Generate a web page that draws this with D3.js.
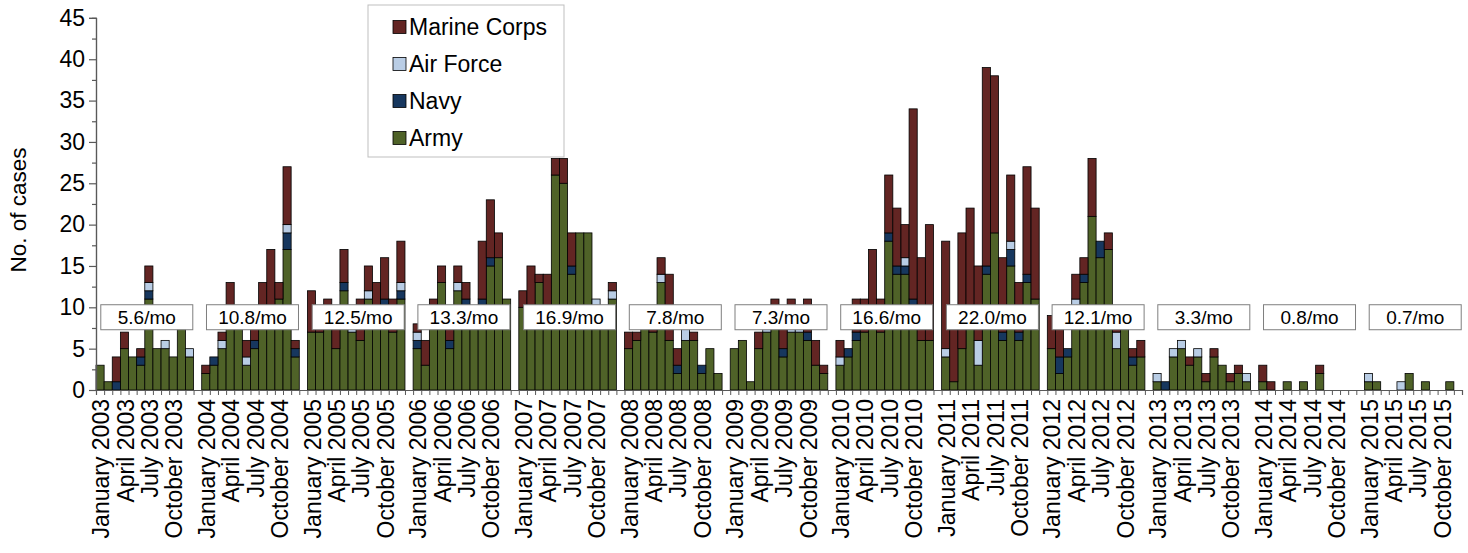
<!DOCTYPE html>
<html>
<head>
<meta charset="utf-8">
<script src="https://cdn.jsdelivr.net/npm/d3@7"></script>
<style>
  body { margin: 0; background: #fff; }
  svg { display: block; }
  text { font-family: "Liberation Sans", Arial, sans-serif; fill: #000; }
</style>
</head>
<body>
<svg id="chart" width="1468" height="553"></svg>
<script>
// Monthly case counts by service, January 2003 – December 2015
const years = [2003, 2004, 2005, 2006, 2007, 2008, 2009, 2010, 2011, 2012, 2013, 2014, 2015];
const monthNames = ["January", "February", "March", "April", "May", "June",
  "July", "August", "September", "October", "November", "December"];
const labeledMonths = [0, 3, 6, 9];

const army = [
  3, 1, 0, 5, 4, 3, 11, 5, 5, 4, 8, 4,
  2, 3, 5, 9, 10, 3, 5, 9, 10, 11, 17, 4,
  7, 7, 9, 5, 12, 7, 6, 11, 10, 10, 7, 11,
  5, 3, 10, 13, 5, 12, 10, 10, 10, 15, 16, 11,
  10, 10, 13, 10, 26, 25, 14, 19, 19, 10, 10, 11,
  5, 6, 9, 7, 13, 6, 2, 6, 6, 2, 5, 2,
  5, 6, 1, 5, 7, 8, 4, 7, 7, 6, 3, 2,
  3, 4, 6, 7, 9, 7, 18, 14, 14, 10, 6, 6,
  4, 1, 5, 9, 3, 14, 19, 6, 15, 6, 13, 11,
  5, 2, 4, 10, 13, 21, 16, 17, 5, 9, 3, 4,
  1, 0, 4, 5, 3, 4, 1, 4, 3, 1, 2, 1,
  1, 0, 0, 1, 0, 1, 0, 2, 0, 0, 0, 0,
  1, 1, 0, 0, 0, 2, 0, 1, 0, 0, 1, 0
];
const navy = [
  0, 0, 1, 0, 0, 1, 1, 0, 0, 0, 0, 0,
  0, 1, 0, 0, 0, 0, 1, 0, 0, 0, 2, 1,
  0, 0, 0, 0, 1, 0, 0, 0, 0, 1, 0, 1,
  1, 0, 0, 0, 1, 0, 1, 0, 1, 1, 0, 0,
  0, 0, 0, 0, 0, 0, 1, 0, 0, 0, 0, 0,
  0, 0, 0, 0, 0, 0, 1, 0, 0, 1, 0, 0,
  0, 0, 0, 0, 0, 0, 1, 0, 0, 1, 0, 0,
  0, 1, 1, 0, 0, 0, 1, 1, 1, 1, 0, 0,
  0, 0, 0, 0, 0, 1, 0, 1, 2, 1, 1, 0,
  0, 2, 1, 0, 1, 0, 2, 0, 0, 0, 1, 0,
  0, 1, 0, 0, 0, 0, 0, 0, 0, 0, 0, 0,
  0, 0, 0, 0, 0, 0, 0, 0, 0, 0, 0, 0,
  0, 0, 0, 0, 0, 0, 0, 0, 0, 0, 0, 0
];
const airForce = [
  0, 0, 0, 0, 0, 0, 1, 0, 1, 0, 0, 1,
  0, 0, 1, 0, 0, 1, 0, 0, 0, 0, 1, 0,
  0, 0, 0, 0, 0, 1, 0, 1, 0, 0, 0, 1,
  1, 0, 0, 0, 0, 1, 0, 0, 0, 0, 0, 0,
  0, 0, 0, 0, 0, 0, 0, 0, 0, 1, 0, 1,
  0, 0, 0, 0, 1, 0, 0, 2, 0, 0, 0, 0,
  0, 0, 0, 0, 1, 0, 0, 1, 1, 0, 0, 0,
  1, 0, 0, 0, 0, 0, 0, 0, 1, 0, 0, 0,
  1, 0, 0, 0, 3, 0, 0, 0, 1, 0, 0, 0,
  0, 0, 0, 1, 0, 0, 0, 0, 2, 0, 0, 0,
  1, 0, 1, 1, 0, 1, 0, 0, 0, 0, 0, 1,
  0, 0, 0, 0, 0, 0, 0, 0, 0, 0, 0, 0,
  1, 0, 0, 0, 1, 0, 0, 0, 0, 0, 0, 0
];
const marineCorps = [
  0, 0, 3, 2, 0, 1, 2, 0, 0, 0, 0, 0,
  1, 0, 1, 4, 0, 2, 4, 4, 7, 2, 7, 1,
  5, 2, 2, 4, 4, 0, 5, 3, 3, 5, 4, 5,
  1, 3, 1, 2, 4, 2, 2, 0, 7, 7, 3, 0,
  2, 5, 1, 4, 2, 3, 4, 0, 0, 0, 0, 1,
  2, 1, 0, 2, 2, 8, 2, 1, 1, 0, 0, 0,
  0, 0, 0, 2, 1, 3, 4, 3, 1, 4, 3, 1,
  2, 0, 4, 4, 8, 4, 7, 7, 4, 23, 10, 14,
  13, 8, 14, 13, 9, 24, 19, 9, 8, 6, 13, 11,
  4, 4, 0, 3, 2, 7, 0, 2, 1, 0, 1, 2,
  0, 0, 0, 0, 1, 0, 1, 1, 0, 1, 1, 0,
  2, 1, 0, 0, 0, 0, 0, 1, 0, 0, 0, 0,
  0, 0, 0, 0, 0, 0, 0, 0, 0, 0, 0, 0
];

// Average cases per month for each year
const rateLabels = ["5.6/mo", "10.8/mo", "12.5/mo", "13.3/mo", "16.9/mo", "7.8/mo", "7.3/mo",
  "16.6/mo", "22.0/mo", "12.1/mo", "3.3/mo", "0.8/mo", "0.7/mo"];

const seriesKeys = ["army", "navy", "airForce", "marineCorps"];
const seriesNames = { army: "Army", navy: "Navy", airForce: "Air Force", marineCorps: "Marine Corps" };
const seriesColors = { army: "#4F6228", navy: "#17375E", airForce: "#B9CDE5", marineCorps: "#632523" };
const legendOrder = ["marineCorps", "airForce", "navy", "army"];

// Each year takes 13 slots on the category axis: 12 months plus one empty spacer.
const slotsPerYear = 13;
const slotCount = years.length * slotsPerYear - 1;

const rows = army.map((a, i) => {
  const yi = Math.floor(i / 12), m = i % 12;
  return {
    slot: yi * slotsPerYear + m,
    army: a, navy: navy[i], airForce: airForce[i], marineCorps: marineCorps[i]
  };
});

const svg = d3.select("#chart");
const plot = { left: 96, right: 1462, top: 17.9, bottom: 390 };

const x = d3.scaleBand().domain(d3.range(slotCount)).range([plot.left, plot.right]).padding(0);
const xEdge = d3.scaleLinear().domain([0, slotCount]).range([plot.left, plot.right]);
const y = d3.scaleLinear().domain([0, 45]).range([plot.bottom, plot.top]);
const axisColor = "#595959";

// Stacked bars
const stacked = d3.stack().keys(seriesKeys)(rows);
const layers = svg.append("g").selectAll("g").data(stacked).join("g")
  .attr("fill", d => seriesColors[d.key]);
layers.selectAll("rect")
  .data(d => d.filter(p => p[1] > p[0]))
  .join("rect")
  .attr("x", d => x(d.data.slot))
  .attr("width", x.bandwidth())
  .attr("y", d => y(d[1]))
  .attr("height", d => y(d[0]) - y(d[1]))
  .attr("stroke", "#000")
  .attr("stroke-width", 0.8);

// Y axis: labelled major ticks every 5, minor ticks between them
const yMinor = svg.append("g").attr("transform", `translate(${plot.left},0)`)
  .call(d3.axisLeft(y).tickValues(d3.range(2.5, 45, 5)).tickSize(4).tickFormat(""));
const yMajor = svg.append("g").attr("transform", `translate(${plot.left},0)`)
  .call(d3.axisLeft(y).tickValues(d3.range(0, 46, 5)).tickSize(7).tickPadding(4));
[yMinor, yMajor].forEach(g => {
  g.select(".domain").attr("stroke", axisColor).attr("stroke-width", 1.2);
  g.selectAll(".tick line").attr("stroke", axisColor).attr("stroke-width", 1.2);
});
yMajor.selectAll(".tick text").attr("font-size", 23).attr("fill", "#000")
  .attr("font-family", "'Liberation Sans', Arial, sans-serif");

svg.append("text")
  .attr("transform", `translate(18,${(plot.top + plot.bottom) / 2 + 6}) rotate(-90)`)
  .attr("text-anchor", "middle").attr("dy", "0.35em")
  .attr("font-size", 22.5)
  .text("No. of cases");

// X axis: tick at every slot boundary
const xAxis = svg.append("g").attr("transform", `translate(0,${plot.bottom})`)
  .call(d3.axisBottom(xEdge).tickValues(d3.range(slotCount + 1)).tickSize(5).tickFormat(""));
xAxis.select(".domain").attr("stroke", axisColor).attr("stroke-width", 1.2);
xAxis.selectAll(".tick line").attr("stroke", axisColor).attr("stroke-width", 1);

// Quarterly month labels
const xLabels = [];
years.forEach((yr, yi) => labeledMonths.forEach(m => {
  xLabels.push({ slot: yi * slotsPerYear + m, text: `${monthNames[m]} ${yr}` });
}));
svg.append("g").selectAll("text").data(xLabels).join("text")
  .attr("transform", d => `translate(${x(d.slot) + x.bandwidth() / 2 + 1},${plot.bottom + 9}) rotate(-90)`)
  .attr("text-anchor", "end").attr("dy", "0.35em")
  .attr("font-size", 23)
  .text(d => d.text);

// Per-year monthly average boxes
const rateGroup = svg.append("g").selectAll("g").data(rateLabels).join("g")
  .attr("transform", (d, i) => {
    const cx = x(i * slotsPerYear) + 6 * x.bandwidth() + 2;
    return `translate(${cx},${y(8.8)})`;
  });
rateGroup.append("rect")
  .attr("x", -46).attr("y", -12.5).attr("width", 92).attr("height", 25)
  .attr("fill", "#fff").attr("stroke", "#7f7f7f").attr("stroke-width", 1);
rateGroup.append("text")
  .attr("text-anchor", "middle").attr("dy", "0.35em")
  .attr("font-size", 19)
  .text(d => d);

// Legend
const legend = svg.append("g").attr("transform", "translate(368,5)");
legend.append("rect").attr("width", 196).attr("height", 152)
  .attr("fill", "#fff").attr("stroke", "#bfbfbf").attr("stroke-width", 1);
const legendItems = legend.selectAll("g.item").data(legendOrder).join("g")
  .attr("class", "item")
  .attr("transform", (d, i) => `translate(0,${22 + i * 37})`);
legendItems.append("rect")
  .attr("x", 25).attr("y", -6.5).attr("width", 13).attr("height", 13)
  .attr("fill", d => seriesColors[d]).attr("stroke", "#000").attr("stroke-width", 0.8);
legendItems.append("text")
  .attr("x", 41).attr("dy", "0.35em")
  .attr("font-size", 23)
  .text(d => seriesNames[d]);
</script>
</body>
</html>
